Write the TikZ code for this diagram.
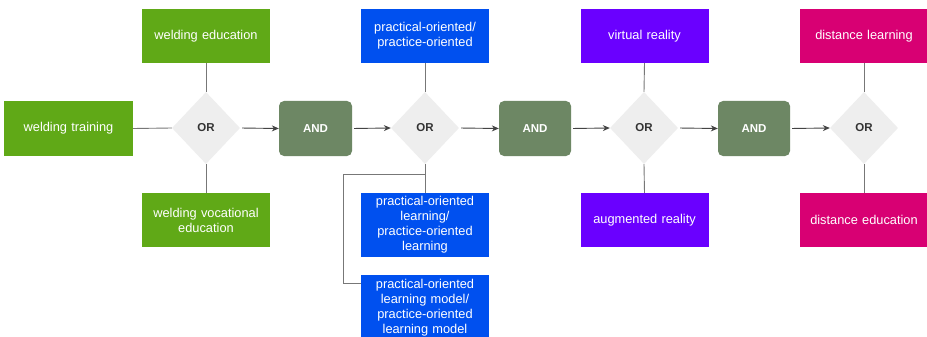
\documentclass[tikz,border=0pt]{standalone}
\usepackage{fontspec}
\setmainfont{Liberation Sans}
\usetikzlibrary{shapes.geometric,arrows.meta,calc}
\definecolor{cgreen}{HTML}{60A917}
\definecolor{colive}{HTML}{6D8764}
\definecolor{cblue}{HTML}{0050EF}
\definecolor{cviolet}{HTML}{6A00FF}
\definecolor{cmagenta}{HTML}{D80073}
\definecolor{cgate}{HTML}{EEEEEE}
\definecolor{cline}{HTML}{777777}
\definecolor{carrow}{HTML}{444444}
\definecolor{ctext}{HTML}{333333}
\tikzset{
  term/.style={rectangle, draw=none, text=white, minimum width=128pt, minimum height=54pt,
    inner sep=2pt, align=center, text width=124pt,
    font=\fontsize{12.8}{15}\selectfont},
  gate/.style={diamond, fill=cgate, draw=none, minimum width=68pt, minimum height=72pt,
    inner sep=0pt, text=ctext, font=\fontsize{11.5}{13}\selectfont\bfseries},
  andbox/.style={rectangle, rounded corners=5pt, fill=colive, draw=none, text=white,
    minimum width=73pt, minimum height=55pt, font=\fontsize{11.5}{13}\selectfont\bfseries},
  conn/.style={draw=cline, line width=0.9pt},
  flow/.style={draw=carrow, line width=0.9pt, shorten <=2pt, -{Stealth[length=7pt,width=6pt]}}
}
\begin{document}
\begin{tikzpicture}[x=1pt,y=-1pt]
\useasboundingbox (0,0) rectangle (927,337);
\clip (0,0) rectangle (927,337);
\fill[white] (0,0) rectangle (927,337);
% group 1
\node[term, fill=cgreen, minimum width=129pt] (wt) at (68.5,128.5) {welding training};
\node[term, fill=cgreen] (we) at (206,36) {welding education};
\node[term, fill=cgreen] (wv) at (206,220) {welding vocational\\education};
\node[gate] (or1) at (206,128) {OR};
\node[andbox] (and1) at (315.5,128.5) {AND};
% group 2
\node[term, fill=cblue] (pr) at (425,36) {practical-oriented/\\practice-oriented};
\node[gate] (or2) at (425,128) {OR};
\node[term, fill=cblue, minimum height=64pt] (pl) at (425,225) {practical-oriented\\learning/\\practice-oriented\\learning};
\node[term, fill=cblue, minimum height=66pt] (pm) at (425,308) {practical-oriented\\learning model/\\practice-oriented\\learning model};
\node[andbox, minimum width=72pt] (and2) at (535,128.5) {AND};
% group 3
\node[term, fill=cviolet, minimum width=127pt] (vr) at (644.5,36) {virtual reality};
\node[gate] (or3) at (644,128) {OR};
\node[term, fill=cviolet, minimum width=127pt] (ar) at (644.5,220) {augmented reality};
\node[andbox, minimum width=72pt] (and3) at (754,128.5) {AND};
% group 4
\node[term, fill=cmagenta] (dl) at (864,36) {distance learning};
\node[gate] (or4) at (864,128) {OR};
\node[term, fill=cmagenta] (de) at (864,220) {distance education};
% connectors
\draw[conn] (wt.east) -- (or1.west);
\draw[conn] (we.south) -- (or1.north);
\draw[conn] (wv.north) -- (or1.south);
\draw[flow] (or1.east) -- (and1.west);
\draw[flow] (and1.east) -- (or2.west);
\draw[conn] (pr.south) -- (or2.north);
\draw[conn] (or2.south) -- (pl.north);
\coordinate (b1) at (343,174);
\draw[conn] (or2.south) |- (b1) |- ([yshift=-9pt]pm.north west);
\draw[flow] (or2.east) -- (and2.west);
\draw[flow] (and2.east) -- (or3.west);
\draw[conn] (vr.south) -- (or3.north);
\draw[conn] (ar.north) -- (or3.south);
\draw[flow] (or3.east) -- (and3.west);
\draw[flow] (and3.east) -- (or4.west);
\draw[conn] (dl.south) -- (or4.north);
\draw[conn] (de.north) -- (or4.south);
\end{tikzpicture}
\end{document}
